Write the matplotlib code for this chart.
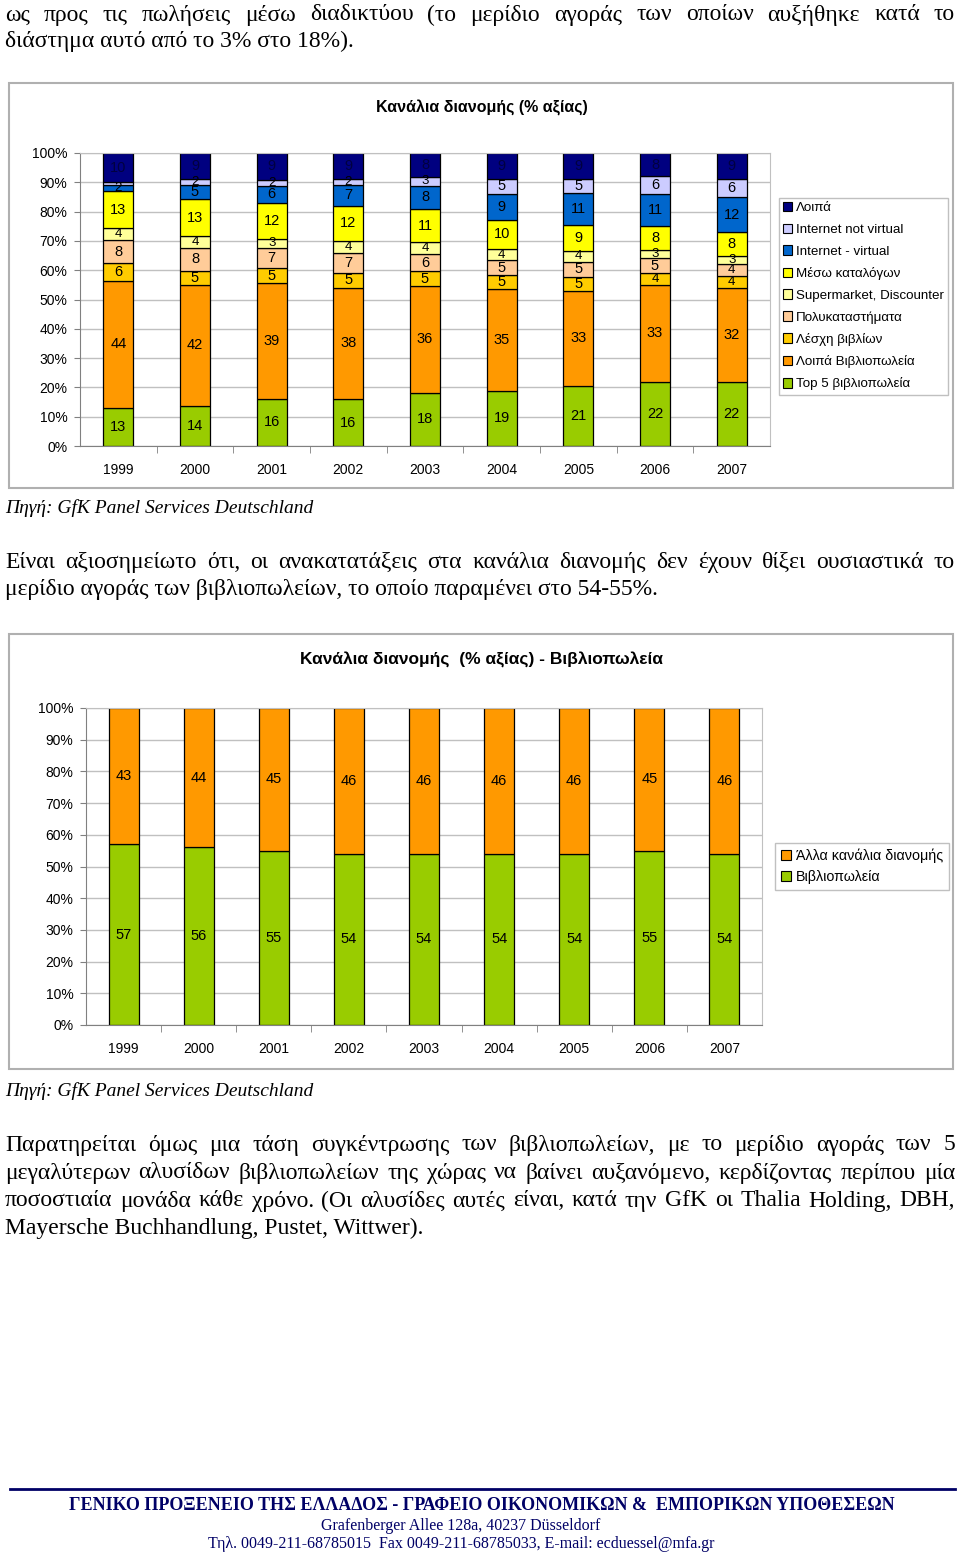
import numpy as np
import matplotlib
matplotlib.use("Agg")
import matplotlib.pyplot as plt
from matplotlib.patches import Rectangle, Patch
from matplotlib.lines import Line2D

W, H = 960, 1560

years = ["1999", "2000", "2001", "2002", "2003", "2004", "2005", "2006", "2007"]

# chart 1: channel shares, bottom -> top of stack
top5 = [13, 14, 16, 16, 18, 19, 21, 22, 22]
other_bookshops = [44, 42, 39, 38, 36, 35, 33, 33, 32]
book_clubs = [6, 5, 5, 5, 5, 5, 5, 4, 4]
dept_stores = [8, 8, 7, 7, 6, 5, 5, 5, 4]
supermarket = [4, 4, 3, 4, 4, 4, 4, 3, 3]
catalogue = [13, 13, 12, 12, 11, 10, 9, 8, 8]
internet_virtual = [2, 5, 6, 7, 8, 9, 11, 11, 12]
internet_not_virtual = [1, 2, 2, 2, 3, 5, 5, 6, 6]
others = [10, 9, 9, 9, 8, 9, 9, 8, 9]

series1 = [top5, other_bookshops, book_clubs, dept_stores, supermarket,
           catalogue, internet_virtual, internet_not_virtual, others]
names1 = ["Top 5 βιβλιοπωλεία", "Λοιπά Βιβλιοπωλεία", "Λέσχη βιβλίων",
          "Πολυκαταστήματα", "Supermarket, Discounter", "Μέσω καταλόγων",
          "Internet - virtual", "Internet not virtual", "Λοιπά"]
colors1 = ["#99CC00", "#FF9900", "#FFCC00", "#FFCC99", "#FFFF99",
           "#FFFF00", "#0066CC", "#CCCCFF", "#000080"]

# chart 2: bookshops vs other channels
bookshops = [57, 56, 55, 54, 54, 54, 54, 55, 54]
other_channels = [43, 44, 45, 46, 46, 46, 46, 45, 46]
names2 = ["Βιβλιοπωλεία", "Άλλα κανάλια διανομής"]
colors2 = ["#99CC00", "#FF9900"]

SERIF = "Liberation Serif"
SANS = "Liberation Sans"
NAVY = "#000066"

fig = plt.figure(figsize=(W / 100, H / 100), dpi=100)
fig.patch.set_facecolor("white")
renderer = fig.canvas.get_renderer()


def add_ax(x, y, w, h):
    return fig.add_axes([x / W, 1 - (y + h) / H, w / W, h / H])


def ftext(x, y, s, **kw):
    kw.setdefault("va", "center")
    return fig.text(x / W, 1 - y / H, s, **kw)


def justified(line, y, x0=5, x1=955, **kw):
    words = line.split()
    texts = [ftext(0, y, w_, **kw) for w_ in words]
    widths = [t.get_window_extent(renderer).width for t in texts]
    gap = (x1 - x0 - sum(widths)) / (len(words) - 1)
    x = x0
    for t, wd in zip(texts, widths):
        t.set_x(x / W)
        x += wd + gap


def frame(x, y, w, h):
    fig.patches.append(Rectangle((x / W, 1 - (y + h) / H), w / W, h / H,
                                 transform=fig.transFigure, fill=False,
                                 edgecolor="#b0b0b0", lw=1.5))


def style_axes(ax, n):
    ax.set_xlim(-0.5, n - 0.5)
    ax.set_ylim(0, 100)
    ax.set_yticks(np.arange(0, 101, 10))
    ax.set_yticklabels([f"{v}%" for v in range(0, 101, 10)],
                       fontsize=10, family=SANS)
    ax.yaxis.grid(True, color="#c0c0c0", lw=1)
    ax.set_axisbelow(True)
    ax.set_xticks(np.arange(n))
    ax.set_xticklabels(years, fontsize=10, family=SANS)
    ax.set_xticks(np.arange(n - 1) + 0.5, minor=True)
    ax.tick_params(axis="x", which="major", length=0, pad=12)
    ax.tick_params(axis="x", which="minor", length=5, color="#808080")
    ax.tick_params(axis="y", length=4, color="#808080", pad=5)
    for sp in ["left", "bottom"]:
        ax.spines[sp].set_color("#808080")
    for sp in ["top", "right"]:
        ax.spines[sp].set_color("#c0c0c0")


def stacked(ax, series, colors, width):
    x = np.arange(len(years))
    data = np.array(series, dtype=float)
    data = data / data.sum(axis=0) * 100
    bottom = np.zeros(len(years))
    for raw, vals, c in zip(series, data, colors):
        ax.bar(x, vals, width, bottom=bottom, color=c, edgecolor="black", lw=0.9)
        tc = "#000040" if c == "#000080" else "black"
        for xi, b, v, r in zip(x, bottom, vals, raw):
            if r < 2:  # hidden under the neighbouring label in the original
                continue
            ax.text(xi, b + v / 2, str(r), ha="center", va="center",
                    fontsize=10.5 if r > 4 else 9.5, family=SANS, color=tc)
        bottom += vals


# ---- body text -------------------------------------------------------
body = dict(fontsize=17, family=SERIF, color="black")
justified("ως προς τις πωλήσεις μέσω διαδικτύου (το μερίδιο αγοράς των οποίων αυξήθηκε κατά το",
          15, **body)
ftext(5, 41, "διάστημα αυτό από το 3% στο 18%).", **body)

# ---- chart 1 ---------------------------------------------------------
frame(9, 83, 944, 405)
ftext(482, 108, "Κανάλια διανομής (% αξίας)", ha="center", fontsize=11.5,
      family=SANS, weight="bold")
ax1 = add_ax(80, 153, 690, 293)
stacked(ax1, series1, colors1, 0.39)
style_axes(ax1, len(years))
h1 = [Patch(facecolor=c, edgecolor="black", lw=0.8, label=n)
      for c, n in zip(colors1[::-1], names1[::-1])]
fig.legend(handles=h1, loc="upper left", bbox_to_anchor=(779 / W, 1 - 198 / H),
           prop={"family": SANS, "size": 9.6}, handlelength=0.7, handleheight=0.7,
           handletextpad=0.25, labelspacing=0.7, borderpad=0.3, borderaxespad=0,
           fancybox=False, edgecolor="#c0c0c0", framealpha=1)

ftext(5, 508, "Πηγή: GfK Panel Services Deutschland", fontsize=14, family=SERIF,
      style="italic")

justified("Είναι αξιοσημείωτο ότι, οι ανακατατάξεις στα κανάλια διανομής δεν έχουν θίξει ουσιαστικά το",
          562, **body)
ftext(5, 589, "μερίδιο αγοράς των βιβλιοπωλείων, το οποίο παραμένει στο 54-55%.", **body)

# ---- chart 2 ---------------------------------------------------------
frame(9, 634, 944, 435)
ftext(482, 660, "Κανάλια διανομής  (% αξίας) - Βιβλιοπωλεία", ha="center",
      fontsize=12.5, family=SANS, weight="bold")
ax2 = add_ax(86, 708, 676, 317)
stacked(ax2, [bookshops, other_channels], colors2, 0.4)
style_axes(ax2, len(years))
h2 = [Patch(facecolor=c, edgecolor="black", lw=0.8, label=n)
      for c, n in zip(colors2[::-1], names2[::-1])]
fig.legend(handles=h2, loc="upper left", bbox_to_anchor=(775 / W, 1 - 843 / H),
           prop={"family": SANS, "size": 10.3}, handlelength=0.7, handleheight=0.7,
           handletextpad=0.35, labelspacing=0.5, borderpad=0.4, borderaxespad=0,
           fancybox=False, edgecolor="#c0c0c0", framealpha=1)

ftext(5, 1091, "Πηγή: GfK Panel Services Deutschland", fontsize=14, family=SERIF,
      style="italic")

justified("Παρατηρείται όμως μια τάση συγκέντρωσης των βιβλιοπωλείων, με το μερίδιο αγοράς των 5",
          1145, **body)
justified("μεγαλύτερων αλυσίδων βιβλιοπωλείων της χώρας να βαίνει αυξανόμενο, κερδίζοντας περίπου μία",
          1173, **body)
justified("ποσοστιαία μονάδα κάθε χρόνο. (Οι αλυσίδες αυτές είναι, κατά την GfK οι Thalia Holding, DBH,",
          1201, **body)
ftext(5, 1228, "Mayersche Buchhandlung, Pustet, Wittwer).", **body)

# ---- footer ----------------------------------------------------------
fig.lines.append(Line2D([10 / W, 955 / W], [1 - 1489 / H] * 2, transform=fig.transFigure,
                        color=NAVY, lw=2))
ftext(482, 1505, "ΓΕΝΙΚΟ ΠΡΟΞΕΝΕΙΟ ΤΗΣ ΕΛΛΑΔΟΣ - ΓΡΑΦΕΙΟ ΟΙΚΟΝΟΜΙΚΩΝ &  ΕΜΠΟΡΙΚΩΝ ΥΠΟΘΕΣΕΩΝ",
      ha="center", fontsize=13.0, family=SERIF, weight="bold", color=NAVY)
ftext(461, 1526, "Grafenberger Allee 128a, 40237 Düsseldorf", ha="center",
      fontsize=11.5, family=SERIF, color=NAVY)
ftext(461, 1544, "Τηλ. 0049-211-68785015  Fax 0049-211-68785033, E-mail: ecduessel@mfa.gr",
      ha="center", fontsize=11.5, family=SERIF, color=NAVY)

fig.savefig("out.png", dpi=100)
